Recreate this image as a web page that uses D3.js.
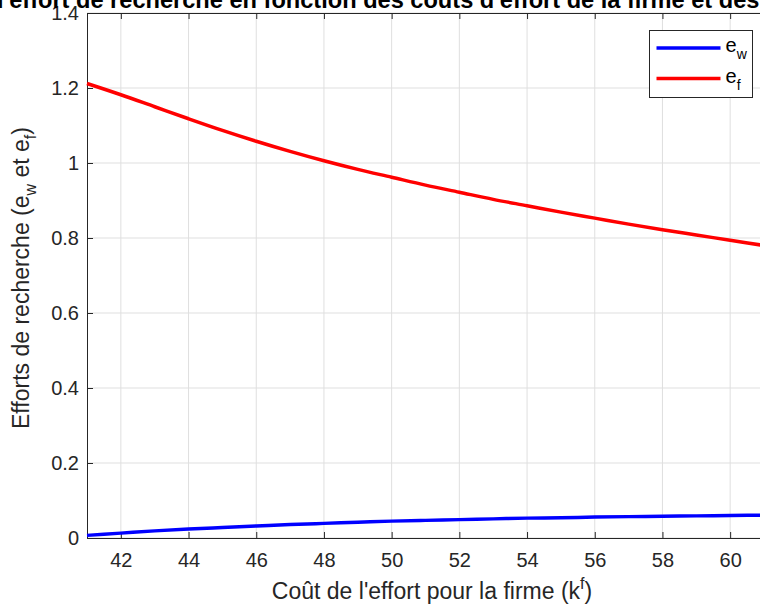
<!DOCTYPE html>
<html>
<head>
<meta charset="utf-8">
<script src="https://cdn.jsdelivr.net/npm/d3@7"></script>
<style>
  body { margin: 0; background: #fff; }
  text { font-family: "Liberation Sans", Arial, sans-serif; }
</style>
</head>
<body>
<div id="chart"></div>
<script>
// Data
var costs = [41, 42, 43, 44, 45, 46, 47, 48, 49, 50, 51, 52, 53, 54, 55, 56, 57, 58, 59, 60, 61];
var effortF = [1.212, 1.182, 1.150, 1.118, 1.087, 1.058, 1.031, 1.006, 0.983, 0.962, 0.941,
               0.922, 0.903, 0.886, 0.869, 0.853, 0.837, 0.822, 0.808, 0.794, 0.780];
var effortW = [0.007, 0.013, 0.019, 0.024, 0.028, 0.032, 0.036, 0.039, 0.042, 0.045, 0.047,
               0.049, 0.051, 0.053, 0.054, 0.056, 0.057, 0.058, 0.059, 0.060, 0.061];
var xTicks = [42, 44, 46, 48, 50, 52, 54, 56, 58, 60];
var yTicks = [0, 0.2, 0.4, 0.6, 0.8, 1, 1.2, 1.4];

var svgWidth = 760;
var svgHeight = 607;

var margin = { top: 13, left: 87 };
var plotW = 677;   // axes run past the right edge, figure is cropped there
var plotH = 525;

var svg = d3.select("#chart")
    .append("svg")
    .attr("width", svgWidth)
    .attr("height", svgHeight);

var chartGroup = svg.append("g")
    .attr("transform", `translate(${margin.left}, ${margin.top})`);

var x = d3.scaleLinear().domain([41, 61]).range([0, plotW]);
var y = d3.scaleLinear().domain([0, 1.4]).range([plotH, 0]);

// grid
chartGroup.append("g")
    .selectAll("line")
    .data(xTicks)
    .enter().append("line")
    .attr("x1", d => x(d)).attr("x2", d => x(d))
    .attr("y1", 0).attr("y2", plotH)
    .attr("stroke", "#dfdfdf").attr("stroke-width", 1);

chartGroup.append("g")
    .selectAll("line")
    .data(yTicks)
    .enter().append("line")
    .attr("x1", 0).attr("x2", plotW)
    .attr("y1", d => y(d)).attr("y2", d => y(d))
    .attr("stroke", "#dfdfdf").attr("stroke-width", 1);

// axes (ticks pointing inwards like matlab)
var axisColor = "#262626";

var bottomAxis = d3.axisBottom(x).tickValues(xTicks).tickSizeInner(-6).tickSizeOuter(0).tickPadding(15);
var topAxis = d3.axisTop(x).tickValues(xTicks).tickSizeInner(-6).tickSizeOuter(0).tickFormat("");
var leftAxis = d3.axisLeft(y).tickValues(yTicks).tickSizeInner(-6).tickSizeOuter(0).tickPadding(8)
    .tickFormat(d3.format("~g"));

function styleAxis(g) {
    g.select(".domain").attr("stroke", axisColor);
    g.selectAll(".tick line").attr("stroke", axisColor);
    g.selectAll(".tick text")
        .attr("fill", axisColor)
        .style("font-size", "20px")
        .style("font-family", "'Liberation Sans', Arial, sans-serif");
}

chartGroup.append("g")
    .attr("transform", `translate(0, ${plotH})`)
    .call(bottomAxis)
    .call(styleAxis);

chartGroup.append("g")
    .call(topAxis)
    .call(styleAxis);

chartGroup.append("g")
    .call(leftAxis)
    .call(styleAxis);

// lines
var line = d3.line().x((d, i) => x(costs[i])).y(d => y(d)).curve(d3.curveMonotoneX);

chartGroup.append("path")
    .datum(effortW)
    .attr("d", line)
    .attr("fill", "none")
    .attr("stroke", "#0000ff")
    .attr("stroke-width", 3.5);

chartGroup.append("path")
    .datum(effortF)
    .attr("d", line)
    .attr("fill", "none")
    .attr("stroke", "#ff0000")
    .attr("stroke-width", 3.5);

// legend
var legend = svg.append("g").attr("transform", "translate(649.5, 30.5)");
legend.append("rect")
    .attr("width", 103).attr("height", 67)
    .attr("fill", "#fff").attr("stroke", axisColor).attr("stroke-width", 1);

var legendItems = [
    { color: "#0000ff", sub: "w" },
    { color: "#ff0000", sub: "f" }
];

legendItems.forEach(function (item, i) {
    var yy = 17.5 + i * 30.5;
    legend.append("line")
        .attr("x1", 7).attr("x2", 71)
        .attr("y1", yy).attr("y2", yy)
        .attr("stroke", item.color).attr("stroke-width", 3.5);
    var t = legend.append("text")
        .attr("x", 76).attr("y", yy + 4)
        .attr("fill", "#000")
        .style("font-size", "20px");
    t.append("tspan").text("e");
    t.append("tspan").attr("dy", 7).style("font-size", "14px").text(item.sub);
});

// axis labels
var xLabel = svg.append("text")
    .attr("x", 432).attr("y", 599)
    .attr("text-anchor", "middle")
    .attr("fill", axisColor)
    .style("font-size", "23px");
xLabel.append("tspan").text("Coût de l'effort pour la firme (k");
xLabel.append("tspan").attr("dy", -10).style("font-size", "16px").text("f");
xLabel.append("tspan").attr("dy", 10).text(")");

var yLabel = svg.append("text")
    .attr("transform", "translate(29, 278) rotate(-90)")
    .attr("text-anchor", "middle")
    .attr("fill", axisColor)
    .style("font-size", "23px");
yLabel.append("tspan").text("Efforts de recherche (e");
yLabel.append("tspan").attr("dy", 7).style("font-size", "16px").text("w");
yLabel.append("tspan").attr("dy", -7).text(" et e");
yLabel.append("tspan").attr("dy", 7).style("font-size", "16px").text("f");
yLabel.append("tspan").attr("dy", -7).text(")");

// title (cut off at the top of the figure); placed so the visible part lines up
var title = svg.append("text")
    .attr("y", 8)
    .attr("fill", "#000")
    .style("font-size", "23.6px")
    .style("font-weight", "bold");
var titleHead = title.append("tspan").text("Évolution de ");
title.append("tspan").text("l'effort de recherche en fonction des coûts d'effort de la firme et des travailleurs");
title.attr("x", -3 - titleHead.node().getComputedTextLength());
</script>
</body>
</html>
